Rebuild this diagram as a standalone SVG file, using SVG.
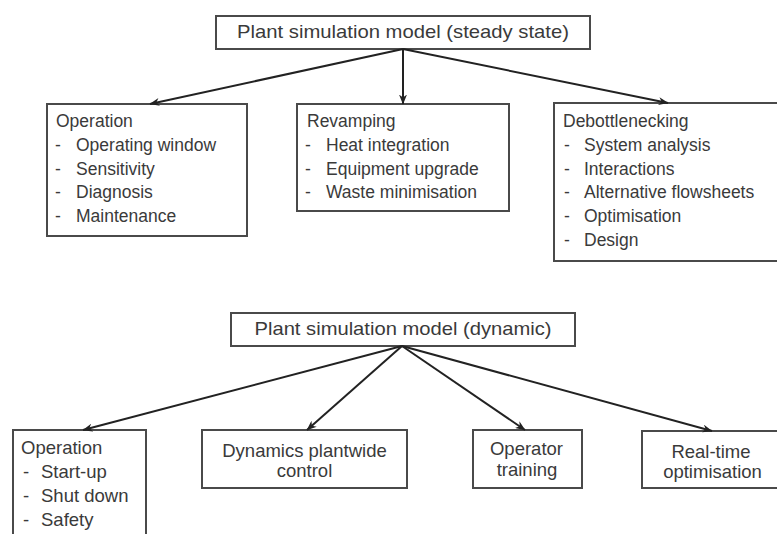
<svg xmlns="http://www.w3.org/2000/svg" width="777" height="534" viewBox="0 0 777 534">
  <defs>
    <marker id="arrow" viewBox="0 0 10 8" refX="9.5" refY="4" markerWidth="10" markerHeight="8" markerUnits="userSpaceOnUse" orient="auto">
      <path d="M0,0 L10,4 L0,8 L3,4 z" fill="#222"/>
    </marker>
  </defs>
  <style>
    .box { fill: #fff; stroke: #4a4a4a; stroke-width: 2; }
    .t { font-family: "Liberation Sans", Arial, sans-serif; font-size: 17.5px; fill: #3a3a3a; }
    .lg { font-size: 18.5px; }
    .title { font-size: 18.5px; }
    .c { text-anchor: middle; }
    .edge { stroke: #222; stroke-width: 2; fill: none; marker-end: url(#arrow); }
  </style>
  <rect width="777" height="534" fill="#fff"/>

  <!-- steady-state model -->
  <g id="steady">
    <rect class="box" x="216" y="16" width="374" height="33"/>
    <text class="t title c" x="403" y="38" textLength="332" lengthAdjust="spacingAndGlyphs">Plant simulation model (steady state)</text>
  </g>

  <g id="operation-steady">
    <rect class="box" x="47" y="104" width="200" height="132"/>
    <text class="t" x="56" y="127">Operation</text>
    <text class="t" x="55" y="151">-</text><text class="t" x="76" y="151">Operating window</text>
    <text class="t" x="55" y="175">-</text><text class="t" x="76" y="175">Sensitivity</text>
    <text class="t" x="55" y="198">-</text><text class="t" x="76" y="198">Diagnosis</text>
    <text class="t" x="55" y="222">-</text><text class="t" x="76" y="222">Maintenance</text>
  </g>

  <g id="revamping">
    <rect class="box" x="297" y="104" width="212" height="107"/>
    <text class="t" x="307" y="127">Revamping</text>
    <text class="t" x="305" y="151">-</text><text class="t" x="326" y="151">Heat integration</text>
    <text class="t" x="305" y="175">-</text><text class="t" x="326" y="175">Equipment upgrade</text>
    <text class="t" x="305" y="198">-</text><text class="t" x="326" y="198">Waste minimisation</text>
  </g>

  <g id="debottlenecking">
    <rect class="box" x="554" y="103" width="240" height="158"/>
    <text class="t" x="563" y="127">Debottlenecking</text>
    <text class="t" x="564" y="151">-</text><text class="t" x="584" y="151">System analysis</text>
    <text class="t" x="564" y="175">-</text><text class="t" x="584" y="175">Interactions</text>
    <text class="t" x="564" y="198">-</text><text class="t" x="584" y="198">Alternative flowsheets</text>
    <text class="t" x="564" y="222">-</text><text class="t" x="584" y="222">Optimisation</text>
    <text class="t" x="564" y="246">-</text><text class="t" x="584" y="246">Design</text>
  </g>

  <!-- dynamic model -->
  <g id="dynamic">
    <rect class="box" x="231" y="313" width="344" height="33"/>
    <text class="t title c" x="403" y="335" textLength="297" lengthAdjust="spacingAndGlyphs">Plant simulation model (dynamic)</text>
  </g>

  <g id="operation-dynamic">
    <rect class="box" x="13" y="430" width="133" height="120"/>
    <text class="t lg" x="21" y="454">Operation</text>
    <text class="t lg" x="23" y="478">-</text><text class="t lg" x="41" y="478">Start-up</text>
    <text class="t lg" x="23" y="502">-</text><text class="t lg" x="41" y="502">Shut down</text>
    <text class="t lg" x="23" y="526">-</text><text class="t lg" x="41" y="526">Safety</text>
  </g>

  <g id="plantwide-control">
    <rect class="box" x="202" y="430" width="205" height="58"/>
    <text class="t lg c" x="304.5" y="457">Dynamics plantwide</text>
    <text class="t lg c" x="304.5" y="477">control</text>
  </g>

  <g id="operator-training">
    <rect class="box" x="473" y="430" width="109" height="58"/>
    <text class="t lg c" x="526.5" y="455">Operator</text>
    <text class="t lg c" x="527" y="476">training</text>
  </g>

  <g id="rto">
    <rect class="box" x="642" y="431" width="150" height="57"/>
    <text class="t lg c" x="711" y="458">Real-time</text>
    <text class="t lg c" x="712.5" y="478">optimisation</text>
  </g>

  <!-- connectors -->
  <g id="connectors">
    <line class="edge" x1="403" y1="49" x2="150" y2="104"/>
    <line class="edge" x1="403" y1="49" x2="403" y2="104"/>
    <line class="edge" x1="403" y1="49" x2="668" y2="103"/>
    <line class="edge" x1="402" y1="346" x2="83" y2="430"/>
    <line class="edge" x1="402" y1="346" x2="307" y2="430"/>
    <line class="edge" x1="402" y1="346" x2="525" y2="430"/>
    <line class="edge" x1="402" y1="346" x2="712" y2="431"/>
  </g>
</svg>
